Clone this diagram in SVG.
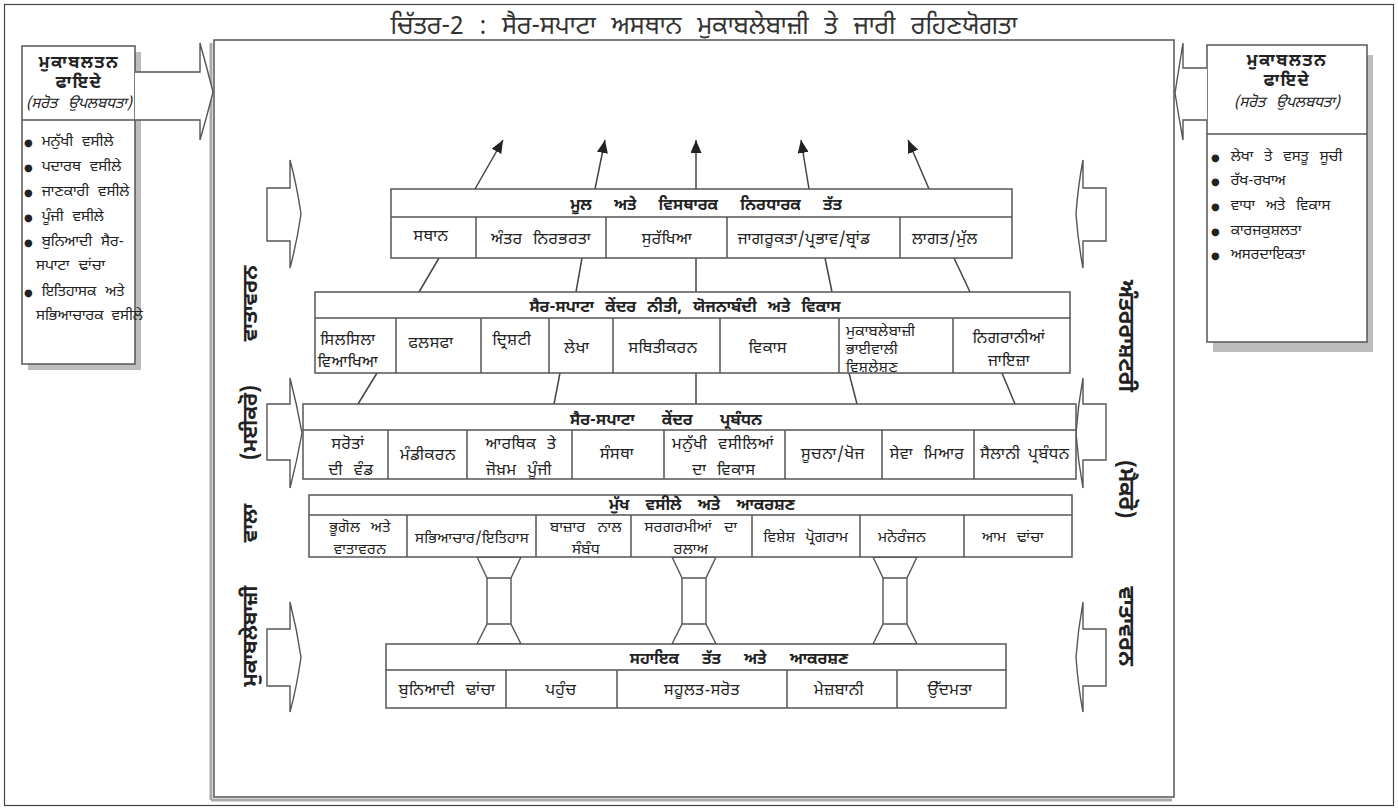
<svg xmlns="http://www.w3.org/2000/svg" width="1398" height="808" viewBox="0 0 1398 808">
<defs>
<marker id="ah" viewBox="0 0 13 11" refX="13" refY="5.5" markerWidth="13" markerHeight="11" markerUnits="userSpaceOnUse" orient="auto"><path d="M0,0 L13,5.5 L0,11 z" fill="#222"/></marker>
<style>
text{font-family:"Noto Sans Gurmukhi","Noto Sans","DejaVu Sans",sans-serif;fill:#222}
.box{fill:#fff;stroke:#555;stroke-width:1.5}
.ln{fill:none;stroke:#555;stroke-width:1.5}
.con{fill:none;stroke:#444;stroke-width:1.5}
.arr{fill:#fff;stroke:#555;stroke-width:1.4}
.sh{fill:#bdbdbd}
.hd{font-size:16px;font-weight:bold;text-anchor:middle}
.c{font-size:16px;text-anchor:middle;letter-spacing:0.6px}
.c4{font-size:15px;text-anchor:middle;letter-spacing:0.4px}
.cl{font-size:15px;letter-spacing:0.4px}
.bt{font-size:15px}
.bh{font-size:17px;font-weight:bold;text-anchor:middle;letter-spacing:1.5px}
.dot{font-size:10px}
.ttl{font-size:25px;text-anchor:middle;fill:#333}
.vt{font-weight:bold;text-anchor:middle}
</style>
</defs>
<rect x="4.5" y="4.5" width="1389" height="801" fill="#fff" stroke="#444" stroke-width="1.2"/>
<text class="ttl" x="704" y="34" word-spacing="9">ਚਿੱਤਰ-2 : ਸੈਰ-ਸਪਾਟਾ ਅਸਥਾਨ ਮੁਕਾਬਲੇਬਾਜ਼ੀ ਤੇ ਜਾਰੀ ਰਹਿਣਯੋਗਤਾ</text>

<g id="frame">
<line x1="211" y1="43" x2="211" y2="800" stroke="#aaa" stroke-width="3"/>
<line x1="211" y1="800" x2="1172" y2="800" stroke="#aaa" stroke-width="3"/>
<rect x="214" y="40" width="960" height="757" fill="#fff" stroke="#555" stroke-width="1.5"/>
</g>

<g id="left-box">
<rect class="sh" x="28" y="52" width="113" height="318"/>
<rect class="box" x="22" y="46" width="113" height="318"/>
<line class="ln" x1="22" y1="120" x2="135" y2="120"/>
<text class="bh" x="79" y="68">ਮੁਕਾਬਲਤਨ</text>
<text class="bh" x="79" y="88">ਫਾਇਦੇ</text>
<text class="bt" x="79" y="108" text-anchor="middle" font-style="italic" word-spacing="7">(ਸਰੋਤ ਉਪਲਬਧਤਾ)</text>
<text class="bt" x="24" y="146" word-spacing="5"><tspan class="dot">●</tspan> ਮਨੁੱਖੀ ਵਸੀਲੇ</text>
<text class="bt" x="24" y="171" word-spacing="5"><tspan class="dot">●</tspan> ਪਦਾਰਥ ਵਸੀਲੇ</text>
<text class="bt" x="24" y="196" word-spacing="5"><tspan class="dot">●</tspan> ਜਾਣਕਾਰੀ ਵਸੀਲੇ</text>
<text class="bt" x="24" y="221" word-spacing="5"><tspan class="dot">●</tspan> ਪੂੰਜੀ ਵਸੀਲੇ</text>
<text class="bt" x="24" y="246" word-spacing="5"><tspan class="dot">●</tspan> ਬੁਨਿਆਦੀ ਸੈਰ-</text>
<text class="bt" x="36" y="270" word-spacing="5">ਸਪਾਟਾ ਢਾਂਚਾ</text>
<text class="bt" x="24" y="296" word-spacing="5"><tspan class="dot">●</tspan> ਇਤਿਹਾਸਕ ਅਤੇ</text>
<text class="bt" x="36" y="320" word-spacing="4">ਸਭਿਆਚਾਰਕ ਵਸੀਲੇ</text>
</g>

<g id="left-arrow">
<path class="arr" d="M135,72 H200 V43 Q207,68 213,92 Q207,116 200,140 V120 H135"/>
</g>

<g id="right-box">
<rect class="sh" x="1213" y="55" width="160" height="297"/>
<rect class="box" x="1207" y="45" width="160" height="297"/>
<line class="ln" x1="1207" y1="134" x2="1367" y2="134"/>
<text class="bh" x="1287" y="66">ਮੁਕਾਬਲਤਨ</text>
<text class="bh" x="1287" y="86">ਫਾਇਦੇ</text>
<text class="bt" x="1287" y="107" text-anchor="middle" font-style="italic" word-spacing="7">(ਸਰੋਤ ਉਪਲਬਧਤਾ)</text>
<text class="bt" x="1211" y="161" word-spacing="7"><tspan class="dot">●</tspan> ਲੇਖਾ ਤੇ ਵਸਤੂ ਸੂਚੀ</text>
<text class="bt" x="1211" y="185" word-spacing="7"><tspan class="dot">●</tspan> ਰੱਖ-ਰਖਾਅ</text>
<text class="bt" x="1211" y="210" word-spacing="7"><tspan class="dot">●</tspan> ਵਾਧਾ ਅਤੇ ਵਿਕਾਸ</text>
<text class="bt" x="1211" y="235" word-spacing="7"><tspan class="dot">●</tspan> ਕਾਰਜਕੁਸ਼ਲਤਾ</text>
<text class="bt" x="1211" y="259" word-spacing="7"><tspan class="dot">●</tspan> ਅਸਰਦਾਇਕਤਾ</text>
</g>

<g id="right-arrow">
<path class="arr" d="M1207,68 H1183 V43 Q1179,68 1175,93 Q1179,118 1183,140 V120 H1207"/>
</g>

<g id="side-arrows">
<path class="arr" d="M267,188 H290 V160 Q297,186 301,214 Q297,242 290,268 V241 H267 Z"/>
<path class="arr" d="M267,404 H290 V378 Q297,405 302,433 Q297,461 290,488 V460 H267 Z"/>
<path class="arr" d="M267,629 H290 V602 Q297,630 301,657 Q297,686 290,712 V686 H267 Z"/>
<path class="arr" d="M1106,188 H1083 V160 Q1078,186 1076,214 Q1078,242 1083,268 V241 H1106 Z"/>
<path class="arr" d="M1106,404 H1083 V378 Q1078,405 1076,433 Q1078,461 1083,488 V460 H1106 Z"/>
<path class="arr" d="M1106,629 H1083 V602 Q1078,630 1076,657 Q1078,686 1083,712 V686 H1106 Z"/>
</g>

<g id="left-label">
<text class="vt" font-size="21" transform="translate(257,476) rotate(-90)" word-spacing="38">ਮੁਕਾਬਲੇਬਾਜ਼ੀ ਵਾਲਾ (ਮਈਕਰੋ) ਵਾਤਾਵਰਨ</text>
</g>
<g id="right-label">
<text class="vt" font-size="22" transform="translate(1119,473) rotate(90)" word-spacing="62">ਅੰਤਰਰਾਸ਼ਟਰੀ (ਮੈਕਰੋ) ਵਾਤਾਵਰਨ</text>
</g>

<g id="connectors">
<line class="con" x1="475" y1="189" x2="503" y2="140" marker-end="url(#ah)"/>
<line class="con" x1="595" y1="189" x2="605" y2="140" marker-end="url(#ah)"/>
<line class="con" x1="696" y1="189" x2="696" y2="140" marker-end="url(#ah)"/>
<line class="con" x1="809" y1="189" x2="801" y2="140" marker-end="url(#ah)"/>
<line class="con" x1="929" y1="189" x2="908" y2="140" marker-end="url(#ah)"/>
<line class="con" x1="439" y1="258" x2="419" y2="292"/>
<line class="con" x1="582" y1="258" x2="576" y2="292"/>
<line class="con" x1="696" y1="258" x2="696" y2="292"/>
<line class="con" x1="825" y1="258" x2="832" y2="292"/>
<line class="con" x1="954" y1="258" x2="970" y2="292"/>
<line class="con" x1="377" y1="373" x2="358" y2="404"/>
<line class="con" x1="560" y1="373" x2="554" y2="404"/>
<line class="con" x1="696" y1="373" x2="696" y2="404"/>
<line class="con" x1="849" y1="373" x2="857" y2="404"/>
<line class="con" x1="1002" y1="373" x2="1015" y2="404"/>
<g id="pillars" class="arr">
<path d="M477,557 L521,557 L511,578 L511,624 L521,644 L477,644 L487,624 L487,578 Z M487,578 H511 M487,624 H511"/>
<path d="M672,557 L716,557 L706,578 L706,624 L716,644 L672,644 L682,624 L682,578 Z M682,578 H706 M682,624 H706"/>
<path d="M873,557 L917,557 L907,578 L907,624 L917,644 L873,644 L883,624 L883,578 Z M883,578 H907 M883,624 H907"/>
</g>
</g>

<g id="row1">
<rect class="box" x="391" y="189" width="621" height="69"/>
<path class="ln" d="M391,217 H1012 M476,217 V258 M606,217 V258 M727,217 V258 M900,217 V258"/>
<text class="hd" x="706" y="210" word-spacing="18">ਮੂਲ ਅਤੇ ਵਿਸਥਾਰਕ ਨਿਰਧਾਰਕ ਤੱਤ</text>
<text class="c" x="431" y="241">ਸਥਾਨ</text>
<text class="c" x="541" y="244" word-spacing="6">ਅੰਤਰ ਨਿਰਭਰਤਾ</text>
<text class="c" x="667" y="244">ਸੁਰੱਖਿਆ</text>
<text class="c" x="804" y="244">ਜਾਗਰੂਕਤਾ/ਪ੍ਰਭਾਵ/ਬ੍ਰਾਂਡ</text>
<text class="c" x="945" y="244">ਲਾਗਤ/ਮੁੱਲ</text>
</g>

<g id="row2">
<rect class="box" x="315" y="292" width="755" height="81"/>
<path class="ln" d="M315,318 H1070 M396,318 V373 M481,318 V373 M549,318 V373 M613,318 V373 M720,318 V373 M839,318 V373 M953,318 V373"/>
<text class="hd" x="685" y="312" word-spacing="7">ਸੈਰ-ਸਪਾਟਾ ਕੇਂਦਰ ਨੀਤੀ, ਯੋਜਨਾਬੰਦੀ ਅਤੇ ਵਿਕਾਸ</text>
<text class="c" x="348" y="345">ਸਿਲਸਿਲਾ</text>
<text class="c" x="348" y="367">ਵਿਆਖਿਆ</text>
<text class="c" x="431" y="348">ਫਲਸਫਾ</text>
<text class="c" x="512" y="345">ਦ੍ਰਿਸ਼ਟੀ</text>
<text class="c" x="577" y="353">ਲੇਖਾ</text>
<text class="c" x="663" y="353">ਸਥਿਤੀਕਰਨ</text>
<text class="c" x="768" y="353">ਵਿਕਾਸ</text>
<text class="cl" x="846" y="336">ਮੁਕਾਬਲੇਬਾਜ਼ੀ</text>
<text class="cl" x="846" y="354">ਭਾਈਵਾਲੀ</text>
<text class="cl" x="846" y="372">ਵਿਸ਼ਲੇਸ਼ਣ</text>
<text class="c" x="1009" y="343">ਨਿਗਰਾਨੀਆਂ</text>
<text class="c" x="1009" y="366">ਜਾਇਜ਼ਾ</text>
</g>

<g id="row3">
<rect class="box" x="303" y="404" width="773" height="75"/>
<path class="ln" d="M303,430 H1076 M388,430 V479 M467,430 V479 M572,430 V479 M664,430 V479 M785,430 V479 M882,430 V479 M974,430 V479"/>
<text class="hd" x="666" y="425" word-spacing="23">ਸੈਰ-ਸਪਾਟਾ ਕੇਂਦਰ ਪ੍ਰਬੰਧਨ</text>
<text class="c" x="348" y="449">ਸਰੋਤਾਂ</text>
<text class="c" x="351" y="475" word-spacing="6">ਦੀ ਵੰਡ</text>
<text class="c" x="428" y="460">ਮੰਡੀਕਰਨ</text>
<text class="c" x="521" y="449" word-spacing="6">ਆਰਥਿਕ ਤੇ</text>
<text class="c" x="519" y="475" word-spacing="6">ਜੋਖ਼ਮ ਪੂੰਜੀ</text>
<text class="c" x="617" y="459">ਸੰਸਥਾ</text>
<text class="c" x="723" y="449" word-spacing="6">ਮਨੁੱਖੀ ਵਸੀਲਿਆਂ</text>
<text class="c" x="724" y="475" word-spacing="6">ਦਾ ਵਿਕਾਸ</text>
<text class="c" x="833" y="459">ਸੂਚਨਾ/ਖੋਜ</text>
<text class="c" x="927" y="459" word-spacing="6">ਸੇਵਾ ਮਿਆਰ</text>
<text class="c" x="1025" y="459" word-spacing="3">ਸੈਲਾਨੀ ਪ੍ਰਬੰਧਨ</text>
</g>

<g id="row4">
<rect class="box" x="309" y="495" width="763" height="62"/>
<path class="ln" d="M309,515 H1072 M407,515 V557 M536,515 V557 M631,515 V557 M752,515 V557 M860,515 V557 M964,515 V557"/>
<text class="hd" x="702" y="510" word-spacing="12">ਮੁੱਖ ਵਸੀਲੇ ਅਤੇ ਆਕਰਸ਼ਣ</text>
<text class="c4" x="360" y="532" word-spacing="6">ਭੂਗੋਲ ਅਤੇ</text>
<text class="c4" x="360" y="554">ਵਾਤਾਵਰਨ</text>
<text class="c4" x="472" y="543">ਸਭਿਆਚਾਰ/ਇਤਿਹਾਸ</text>
<text class="c4" x="586" y="532" word-spacing="8">ਬਾਜ਼ਾਰ ਨਾਲ</text>
<text class="c4" x="586" y="554">ਸੰਬੰਧ</text>
<text class="c4" x="691" y="532" word-spacing="8">ਸਰਗਰਮੀਆਂ ਦਾ</text>
<text class="c4" x="691" y="554">ਰਲਾਅ</text>
<text class="c4" x="806" y="542" word-spacing="6">ਵਿਸ਼ੇਸ਼ ਪ੍ਰੋਗਰਾਮ</text>
<text class="c4" x="902" y="542">ਮਨੋਰੰਜਨ</text>
<text class="c4" x="1013" y="542" word-spacing="6">ਆਮ ਢਾਂਚਾ</text>
</g>

<g id="row5">
<rect class="box" x="386" y="644" width="620" height="64"/>
<path class="ln" d="M386,670 H1006 M506,670 V708 M617,670 V708 M787,670 V708 M897,670 V708"/>
<text class="hd" x="739" y="664" word-spacing="19">ਸਹਾਇਕ ਤੱਤ ਅਤੇ ਆਕਰਸ਼ਣ</text>
<text class="c" x="447" y="695" word-spacing="6">ਬੁਨਿਆਦੀ ਢਾਂਚਾ</text>
<text class="c" x="561" y="695">ਪਹੁੰਚ</text>
<text class="c" x="702" y="695">ਸਹੂਲਤ-ਸਰੋਤ</text>
<text class="c" x="839" y="695">ਮੇਜ਼ਬਾਨੀ</text>
<text class="c" x="950" y="695">ਉੱਦਮਤਾ</text>
</g>
</svg>
